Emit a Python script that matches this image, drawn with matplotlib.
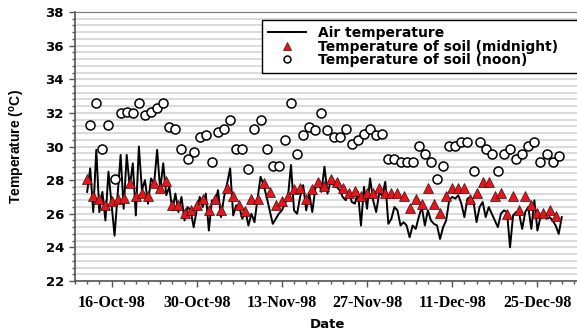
import matplotlib
matplotlib.use("Agg")
import matplotlib.pyplot as plt
import matplotlib.dates as mdates
from matplotlib.ticker import MultipleLocator, FixedLocator
from datetime import datetime, timedelta

# air temperature, two readings a day starting 12-Oct-98 00:00
air_temp = [27.3, 28.7, 26.1, 29.8, 26.1, 27.3, 25.6, 28.5, 26.6, 24.7,
            27.1, 29.5, 26.3, 29.5, 27.6, 29.0, 25.9, 30.0, 27.4, 28.0,
            26.6, 28.1, 27.8, 29.8, 27.4, 29.0, 27.1, 27.6, 26.2, 27.2,
            26.1, 27.0, 25.6, 26.4, 26.2, 25.2, 26.2, 27.0, 26.4, 27.2,
            25.0, 26.8, 26.6, 27.4, 25.8, 27.0, 27.8, 28.7, 25.9, 26.5,
            26.4, 25.7, 26.2, 25.3, 26.0, 25.5, 26.9, 28.2, 27.7, 27.0,
            26.2, 25.4, 25.7, 26.0, 26.2, 26.6, 27.0, 28.9, 26.2, 26.0,
            27.0, 27.7, 26.2, 27.2, 26.1, 27.5, 28.0, 27.3, 28.8, 27.2,
            27.9, 27.7, 27.6, 27.4, 27.0, 26.8, 27.3, 26.7, 26.6, 27.3,
            25.3, 27.6, 26.3, 28.1, 26.8, 26.1, 27.2, 27.1, 27.9, 25.4,
            25.7, 26.4, 26.2, 25.3, 25.5, 25.3, 24.6, 25.3, 25.1, 25.8,
            26.4, 25.3, 26.2, 25.6, 25.4, 25.3, 24.5, 25.2, 25.6, 26.8,
            27.0, 26.9, 27.1, 26.6, 25.8, 26.9, 27.0, 26.7, 25.5, 26.4,
            26.7, 25.8, 26.4, 26.0, 25.6, 25.2, 26.0, 26.2, 26.1, 24.0,
            25.9, 26.1, 26.0, 25.1, 26.1, 26.4, 25.1, 26.8, 25.0, 25.8,
            26.0, 25.7, 25.8, 25.6, 25.3, 24.8, 25.8]

# soil temperature, one reading per day from 12-Oct-98
soil_midnight = [28.05, 27.05, 26.85, 26.55, 26.75, 26.85, 26.95, 27.85, 27.05, 27.25,
                 27.05, 27.85, 27.55, 27.95, 26.55, 26.55, 26.05, 26.25, 26.55, 26.85,
                 26.25, 26.85, 26.25, 27.55, 27.05, 26.5, 26.17, 26.87, 26.87, 27.8,
                 27.27, 26.5, 26.77, 27.05, 27.46, 27.55, 26.87, 27.46, 27.86, 27.64,
                 28.06, 27.86, 27.55, 27.24, 27.36, 27.05, 27.24, 27.24, 27.55, 27.24,
                 27.24, 27.24, 27.05, 26.37, 26.87, 26.57, 27.55, 26.57, 26.05, 27.05,
                 27.55, 27.55, 27.55, 26.85, 27.24, 27.86, 27.86, 27.05, 27.24, 26.0,
                 27.05, 26.25, 27.05, 26.55, 26.05, 26.05, 26.25, 25.85]

soil_noon = [31.27, 32.57, 29.86, 31.27, 28.06, 31.97, 32.05, 31.97, 32.57, 31.87,
             32.05, 32.27, 32.57, 31.17, 31.05, 29.86, 29.25, 29.67, 30.56, 30.66,
             29.07, 30.86, 31.05, 31.57, 29.86, 29.86, 28.65, 31.05, 31.57, 29.86,
             28.85, 28.85, 30.36, 32.57, 29.57, 30.66, 31.17, 30.96, 31.97, 30.96,
             30.56, 30.56, 31.05, 30.16, 30.36, 30.76, 31.05, 30.66, 30.76, 29.25,
             29.25, 29.05, 29.05, 29.05, 30.04, 29.55, 29.05, 28.06, 28.85, 30.04,
             30.04, 30.24, 30.24, 28.55, 30.24, 29.85, 29.55, 28.55, 29.55, 29.85,
             29.25, 29.55, 30.04, 30.24, 29.05, 29.55, 29.05, 29.45]

start = datetime(1998, 10, 12)
air_dates = [start + timedelta(hours=12 * k) for k in range(len(air_temp))]
mid_dates = [start + timedelta(days=i) for i in range(len(soil_midnight))]
noon_dates = [start + timedelta(days=i, hours=12) for i in range(len(soil_noon))]

plt.rcParams['font.family'] = ['DejaVu Sans']

fig = plt.figure(figsize=(5.77, 3.32), dpi=100)
ax = fig.add_axes([75 / 577, 1 - 281 / 332, 505 / 577, 269 / 332])

ax.plot(air_dates, air_temp, color='black', lw=1.4, label='Air temperature', zorder=3)
ax.plot(mid_dates, soil_midnight, ls='none', marker='^', ms=7, mfc='#e8141b',
        mec='#3a1010', mew=0.5, label='Temperature of soil (midnight)', zorder=4)
ax.plot(noon_dates, soil_noon, ls='none', marker='o', ms=6.5, mfc='white',
        mec='black', mew=1.1, label='Temperature of soil (noon)', zorder=4)

ax.set_ylim(22, 38)
ax.set_xlim(datetime(1998, 10, 10), datetime(1999, 1, 1))

ax.yaxis.set_major_locator(MultipleLocator(2))
ax.yaxis.set_minor_locator(MultipleLocator(0.4))
ax.grid(True, axis='y', which='both', color='#d8d8d8', lw=1.3, zorder=0)
ax.set_axisbelow(True)

major_days = [mdates.date2num(datetime(1998, 10, 16) + timedelta(days=14 * i)) for i in range(6)]
minor_days = [mdates.date2num(datetime(1998, 10, 10) + timedelta(days=2 * i)) for i in range(42)]
ax.xaxis.set_major_locator(FixedLocator(major_days))
ax.xaxis.set_minor_locator(FixedLocator(minor_days))
ax.xaxis.set_major_formatter(mdates.DateFormatter('%d-%b-%y'))

for lbl in ax.get_xticklabels():
    lbl.set_fontfamily(['Liberation Serif', 'DejaVu Serif'])
    lbl.set_fontweight('bold')
    lbl.set_fontsize(11.5)
for lbl in ax.get_yticklabels():
    lbl.set_fontweight('bold')
    lbl.set_fontsize(9.5)

ax.tick_params(axis='both', which='major', length=4, width=1, color='#555555', pad=4)
ax.tick_params(axis='both', which='minor', length=2.5, width=1, color='#555555')
ax.tick_params(axis='x', which='major', pad=6)

for side in ['left', 'bottom']:
    ax.spines[side].set_color('#555555')
    ax.spines[side].set_linewidth(1.2)
ax.spines['top'].set_color('#777777')
ax.spines['right'].set_visible(False)

ax.set_xlabel('Date', fontweight='bold', fontsize=9.5, labelpad=5)
ax.set_ylabel(r'Temperature ($\mathregular{^o}$C)', fontweight='bold', fontsize=10,
              family=['Liberation Sans', 'DejaVu Sans'], labelpad=13)

leg = ax.legend(loc='upper left', bbox_to_anchor=(262 / 577, 1 - 20 / 332, 330 / 577, 0),
                bbox_transform=fig.transFigure, mode='expand', frameon=True, fancybox=False,
                edgecolor='black', framealpha=1, borderpad=0.45, handlelength=2.7,
                labelspacing=-0.05, handletextpad=0.9, borderaxespad=0,
                prop={'weight': 'bold', 'size': 10})
leg.get_frame().set_linewidth(1.0)
leg.legend_handles[1].set_markersize(6)
leg.legend_handles[2].set_markersize(5)

fig.savefig('out.png', dpi=100)
